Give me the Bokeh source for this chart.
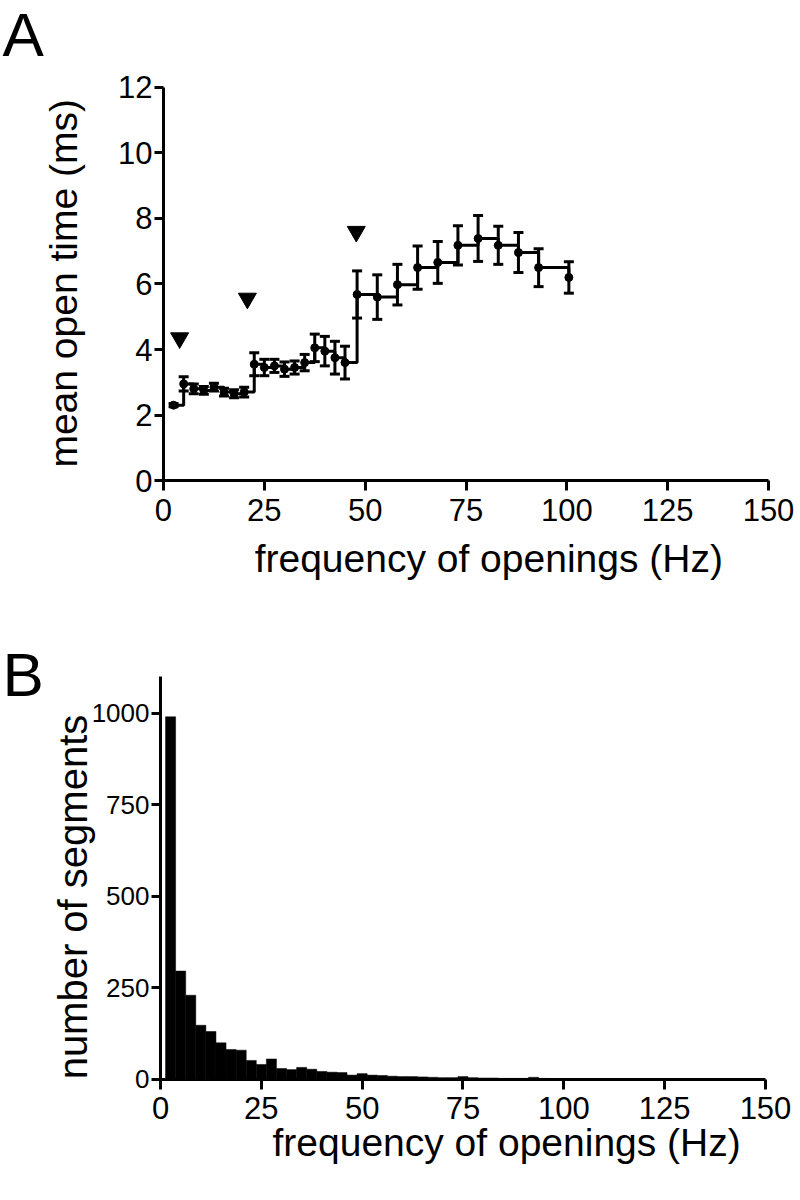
import math
from bokeh.plotting import figure
from bokeh.layouts import column
from bokeh.models import FixedTicker, Range1d
from bokeh.core.properties import value
from bokeh.embed import file_html
from bokeh.resources import INLINE

FONT = "Liberation Sans"

# ---------------- Panel A data ----------------
freq_a = [2.5, 5, 7.5, 10, 12.5, 15, 17.5, 20, 22.5, 25, 27.5, 30, 32.5, 35,
          37.5, 40, 42.5, 45, 48, 53, 58, 63, 68, 73, 78, 83, 88, 93, 100.5]
mean_open = [2.3, 2.95, 2.8, 2.75, 2.85, 2.7, 2.65, 2.7, 3.55, 3.45, 3.5, 3.4,
             3.45, 3.6, 4.05, 3.95, 3.75, 3.6, 5.68, 5.6, 5.98, 6.5, 6.66,
             7.18, 7.39, 7.18, 6.96, 6.5, 6.2]
sem = [0.05, 0.22, 0.15, 0.12, 0.12, 0.12, 0.12, 0.15, 0.35, 0.25, 0.2, 0.22,
       0.2, 0.25, 0.42, 0.45, 0.5, 0.5, 0.72, 0.68, 0.62, 0.66, 0.64, 0.6,
       0.7, 0.58, 0.61, 0.58, 0.48]
arrow_x = [4.0, 20.8, 47.8]
arrow_y = [4.35, 5.56, 7.6]
xticks = [0, 25, 50, 75, 100, 125, 150]
yticks_a = [0, 2, 4, 6, 8, 10, 12]

# ---------------- Panel B data ----------------
bin_width = 2.5
bin_centers = [2.5, 5, 7.5, 10, 12.5, 15, 17.5, 20, 22.5, 25, 27.5, 30, 32.5,
               35, 37.5, 40, 42.5, 45, 47.5, 50, 52.5, 55, 57.5, 60, 62.5, 65,
               67.5, 70, 72.5, 75, 77.5, 80, 82.5, 85, 87.5, 90, 92.5, 95,
               97.5, 100, 102.5, 105, 107.5, 110, 112.5, 115, 117.5, 120,
               122.5, 125, 127.5, 130, 132.5, 135, 137.5, 140, 142.5, 145,
               147.5]
counts = [990, 296, 230, 148, 131, 100, 82, 80, 52, 41, 56, 30, 27, 33, 28,
          22, 20, 19, 12, 16, 12, 11, 9, 8, 8, 7, 6, 5, 5, 8, 5, 4, 4, 3, 3,
          3, 6, 3, 2, 2, 2, 2, 1, 2, 1, 1, 1, 1, 1, 1, 1, 1, 1, 1, 1, 1, 1,
          1, 1]
yticks_b = [0, 250, 500, 750, 1000]

XLABEL = "frequency of openings (Hz)"


def style_axes(p, ybounds, yticks, ytick_size):
    p.outline_line_color = None
    p.grid.visible = False
    p.background_fill_color = "white"
    p.xaxis.ticker = FixedTicker(ticks=xticks)
    p.yaxis.ticker = FixedTicker(ticks=yticks)
    p.xaxis.bounds = (0, 150)
    p.yaxis.bounds = ybounds
    p.xaxis.fixed_location = 0
    p.yaxis.fixed_location = 0
    for ax in (p.xaxis, p.yaxis):
        ax.axis_line_width = 3
        ax.axis_line_color = "black"
        ax.major_tick_line_width = 3
        ax.major_tick_line_color = "black"
        ax.major_tick_in = 0
        ax.minor_tick_line_color = None
        ax.major_label_text_font = FONT
        ax.major_label_text_color = "black"
    p.xaxis.major_label_text_font_size = "31px"
    p.yaxis.major_label_text_font_size = ytick_size
    p.xaxis.major_tick_out = 10
    p.yaxis.major_tick_out = 9
    p.xaxis.major_label_standoff = 8
    p.yaxis.major_label_standoff = 2


def add_text(p, x, y, text, size, align="left", baseline="alphabetic", angle=0.0):
    p.text(x=[x], y=[y], text=[text], angle=angle,
           text_font=value(FONT), text_font_size=value(size),
           text_align=align, text_baseline=baseline, text_color="black")


# ---------------- Figure A ----------------
pA = figure(width=800, height=640, x_range=Range1d(-40.41, 157.93),
            y_range=Range1d(-4.885, 14.656), output_backend="svg",
            toolbar_location=None, min_border=0)
style_axes(pA, (0, 12), yticks_a, "31px")

lo = [m - s for m, s in zip(mean_open, sem)]
hi = [m + s for m, s in zip(mean_open, sem)]
pA.step(freq_a, mean_open, mode="after", line_width=3, line_color="black")
pA.segment(x0=freq_a, y0=lo, x1=freq_a, y1=hi, line_width=3, line_color="black")
pA.scatter(freq_a, lo, marker="dash", size=10, line_width=3, line_color="black")
pA.scatter(freq_a, hi, marker="dash", size=10, line_width=3, line_color="black")
pA.scatter(freq_a, mean_open, marker="circle", size=8, fill_color="black", line_color="black")
pA.scatter(arrow_x, arrow_y, marker="inverted_triangle", size=18,
           fill_color="black", line_color="black")

add_text(pA, -39.9, 13.62, "A", "62px")
add_text(pA, 22.6, -2.38, XLABEL, "39px")
add_text(pA, -24.8, 6.02, "mean open time (ms)", "39px",
         align="center", baseline="middle", angle=math.pi / 2)

# ---------------- Figure B ----------------
pB = figure(width=800, height=560, x_range=Range1d(-39.67, 158.68),
            y_range=Range1d(-330.3, 1198.3), output_backend="svg",
            toolbar_location=None, min_border=0)
style_axes(pB, (0, 1100), yticks_b, "26px")

pB.vbar(x=bin_centers, top=counts, width=bin_width, bottom=0,
        fill_color="black", line_color="black", line_width=0.5)

add_text(pB, -39.2, 1105, "B", "62px")
add_text(pB, 27.77, -172, XLABEL, "39px")
add_text(pB, -21.6, 498, "number of segments", "40px",
         align="center", baseline="middle", angle=math.pi / 2)

layout = column(pA, pB, spacing=0)
open("out.html", "w").write(file_html(layout, INLINE))
